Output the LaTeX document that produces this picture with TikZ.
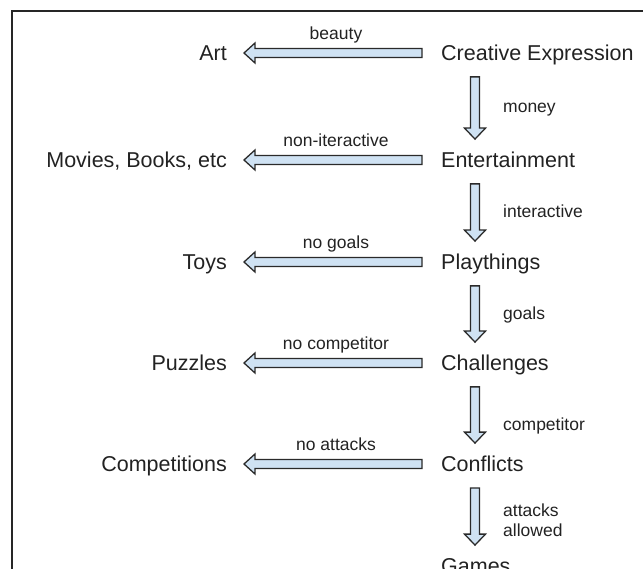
\documentclass[tikz,border=0pt]{standalone}
\usepackage{fontspec}
\setmainfont{Liberation Sans}
\usetikzlibrary{calc}

\definecolor{ink}{HTML}{222222}
\definecolor{arrowfill}{HTML}{CFE2F3}
\definecolor{arrowline}{HTML}{2A2A2A}

\tikzset{
  bigtxt/.style={inner sep=0pt, text height=15.4pt, text depth=0pt, text=ink,
                 font=\fontsize{21.5}{25}\selectfont},
  smalltxt/.style={inner sep=0pt, text height=12.5pt, text depth=0pt, text=ink,
                   font=\fontsize{17.5}{20}\selectfont},
  twoline/.style={inner sep=0pt, text=ink, align=left,
                  font=\fontsize{17.5}{20.5}\selectfont},
  blockline/.style={draw=arrowline, fill=arrowfill, line width=1.3pt, line join=miter},
  % leftward block arrow: tail 19pt left of the start node, tip 17pt right of the target
  hblock/.style={blockline, to path={
    let \p1=(\tikztostart.west), \p2=(\tikztotarget.east) in
      (\x1-19pt,\y1+4.5pt) -- (\x2+28pt,\y1+4.5pt) -- (\x2+28pt,\y1+10pt)
      -- (\x2+17pt,\y1) -- (\x2+28pt,\y1-10pt) -- (\x2+28pt,\y1-4.5pt)
      -- (\x1-19pt,\y1-4.5pt) -- cycle}},
  % downward block arrow, 34pt right of the nodes' left edge
  vblock/.style={blockline, to path={
    let \p1=(\tikztostart.south west), \p2=(\tikztotarget.north west) in
      (\x1+29.5pt,\y1-16pt) -- (\x1+29.5pt,\y2+24pt) -- (\x1+23.5pt,\y2+24pt)
      -- (\x1+34pt,\y2+13pt) -- (\x1+44.5pt,\y2+24pt) -- (\x1+38.5pt,\y2+24pt)
      -- (\x1+38.5pt,\y1-16pt) -- cycle}},
  frame/.style={draw=black!85, line width=1.4pt}
}

\begin{document}
\begin{tikzpicture}[x=1pt, y=-1pt]
  \useasboundingbox (0,0) rectangle (643,569);

  % open frame: left and top edges
  \draw[frame] (12,575) |- (650,11);

  % main chain
  \node[bigtxt, anchor=west] (ce)  at (441,53)  {Creative Expression};
  \node[bigtxt, anchor=west] (ent) at (441,160) {Entertainment};
  \node[bigtxt, anchor=west] (pla) at (441,262) {Playthings};
  \node[bigtxt, anchor=west] (cha) at (441,363) {Challenges};
  \node[bigtxt, anchor=west] (con) at (441,464) {Conflicts};
  \node[bigtxt, anchor=west] (gam) at (441,566) {Games};

  % branches
  \node[bigtxt, anchor=east] (art) at (227,53)  {Art};
  \node[bigtxt, anchor=east] (mov) at (227,160) {Movies, Books, etc};
  \node[bigtxt, anchor=east] (toy) at (227,262) {Toys};
  \node[bigtxt, anchor=east] (puz) at (227,363) {Puzzles};
  \node[bigtxt, anchor=east] (cmp) at (227,464) {Competitions};

  % horizontal arrows
  \draw[hblock] (ce)  to (art);
  \draw[hblock] (ent) to (mov);
  \draw[hblock] (pla) to (toy);
  \draw[hblock] (cha) to (puz);
  \draw[hblock] (con) to (cmp);

  % vertical arrows
  \draw[vblock] (ce)  to (ent);
  \draw[vblock] (ent) to (pla);
  \draw[vblock] (pla) to (cha);
  \draw[vblock] (cha) to (con);
  \draw[vblock] (con) to (gam);

  % labels on horizontal arrows
  \node[smalltxt] (lb1) at (336,33)  {beauty};
  \node[smalltxt] (lb2) at (336,140) {non-iteractive};
  \node[smalltxt] (lb3) at (336,242) {no goals};
  \node[smalltxt] (lb4) at (336,343) {no competitor};
  \node[smalltxt] (lb5) at (336,444) {no attacks};

  % labels on vertical arrows
  \node[smalltxt, anchor=west] (lv1) at (503,106) {money};
  \node[smalltxt, anchor=west] (lv2) at (503,211) {interactive};
  \node[smalltxt, anchor=west] (lv3) at (503,313) {goals};
  \node[smalltxt, anchor=west] (lv4) at (503,424) {competitor};
  \node[twoline, anchor=west]  (lv5) at (503,520) {attacks\\allowed};
\end{tikzpicture}
\end{document}
